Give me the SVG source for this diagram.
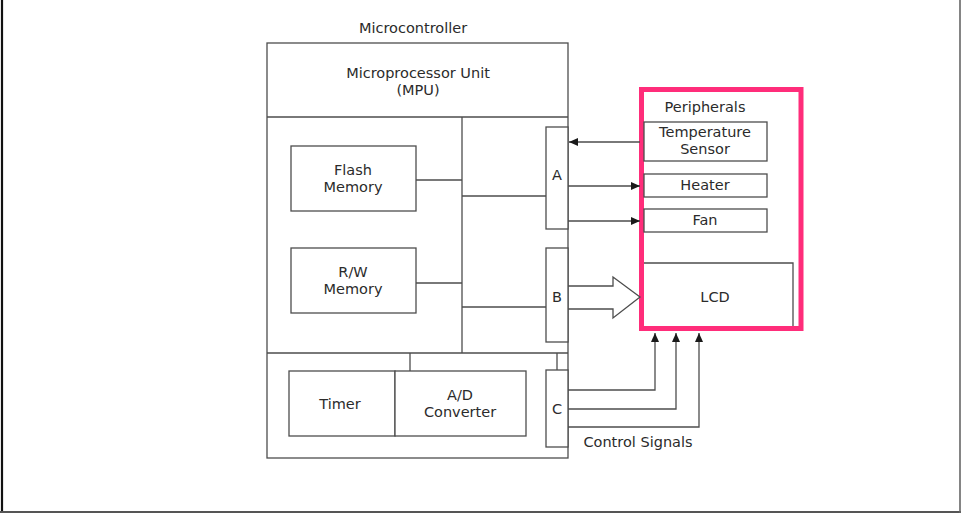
<svg xmlns="http://www.w3.org/2000/svg" width="961" height="514" viewBox="0 0 961 514">
<style>
.ln{fill:none;stroke:#4d4d4d;stroke-width:1.3}
.bx{fill:#fff;stroke:#4d4d4d;stroke-width:1.3}
.t{font-family:"DejaVu Sans","Open Sans",sans-serif;font-size:14.5px;fill:#2b2b2b;text-anchor:middle}
</style>
<defs>
<marker id="ah" markerWidth="10" markerHeight="8" refX="9" refY="4" orient="auto" markerUnits="userSpaceOnUse">
<path d="M0,0 L9,4 L0,8 Z" fill="#1a1a1a"/>
</marker>
</defs>
<rect width="961" height="514" fill="#fff"/>
<line x1="2" y1="0" x2="2" y2="513" stroke="#111" stroke-width="2.2"/>
<line x1="0" y1="512" x2="961" y2="512" stroke="#555" stroke-width="2"/>
<line x1="960" y1="0" x2="960" y2="513" stroke="#666" stroke-width="1.6"/>

<g id="microcontroller">
<text class="t" x="413" y="32.5">Microcontroller</text>
<rect class="bx" x="267" y="43" width="301" height="415"/>
<line class="ln" x1="267" y1="117" x2="568" y2="117"/>
<line class="ln" x1="267" y1="353" x2="568" y2="353"/>
</g>
<g id="mpu">
<text class="t" x="418" y="77.5">Microprocessor Unit</text>
<text class="t" x="418" y="94.5">(MPU)</text>
</g>
<g id="flash">
<rect class="bx" x="291" y="146" width="125" height="65"/>
<text class="t" x="353" y="175">Flash</text>
<text class="t" x="353" y="192">Memory</text>
</g>
<g id="rw">
<rect class="bx" x="291" y="248" width="125" height="65"/>
<text class="t" x="353" y="277">R/W</text>
<text class="t" x="353" y="294">Memory</text>
</g>
<g id="timer">
<rect class="bx" x="289" y="371" width="106" height="65"/>
<text class="t" x="340" y="409">Timer</text>
</g>
<g id="adc">
<rect class="bx" x="395" y="371" width="131" height="65"/>
<text class="t" x="460" y="400">A/D</text>
<text class="t" x="460" y="417">Converter</text>
</g>
<g id="portA">
<rect class="bx" x="546" y="127" width="22" height="102"/>
<text class="t" x="557" y="180">A</text>
</g>
<g id="portB">
<rect class="bx" x="546" y="248" width="22" height="94"/>
<text class="t" x="557" y="302">B</text>
</g>
<g id="portC">
<rect class="bx" x="546" y="370" width="22" height="77"/>
<text class="t" x="557" y="414">C</text>
</g>

<g id="peripherals">
<rect x="641.5" y="89.5" width="159.5" height="239" fill="none" stroke="#ff2d7a" stroke-width="5"/>
<text class="t" x="705" y="112">Peripherals</text>
</g>
<g id="tempsensor">
<rect class="bx" x="644" y="122" width="123" height="39"/>
<text class="t" x="705" y="137">Temperature</text>
<text class="t" x="705" y="154">Sensor</text>
</g>
<g id="heater">
<rect class="bx" x="644" y="174" width="123" height="23"/>
<text class="t" x="705" y="190">Heater</text>
</g>
<g id="fan">
<rect class="bx" x="644" y="209" width="123" height="23"/>
<text class="t" x="705" y="225">Fan</text>
</g>
<g id="lcd">
<path class="ln" d="M644,263 H793 V326"/>
<text class="t" x="715" y="302">LCD</text>
</g>

<g id="connectors">
<line class="ln" x1="462" y1="117" x2="462" y2="353"/>
<line class="ln" x1="416" y1="180" x2="462" y2="180"/>
<line class="ln" x1="416" y1="283" x2="462" y2="283"/>
<line class="ln" x1="462" y1="196" x2="546" y2="196"/>
<line class="ln" x1="462" y1="307" x2="546" y2="307"/>
<line class="ln" x1="410" y1="353" x2="410" y2="371"/>
<line class="ln" x1="557" y1="353" x2="557" y2="370"/>
<line class="ln" x1="640" y1="142" x2="569" y2="142" marker-end="url(#ah)"/>
<line class="ln" x1="568" y1="186" x2="640" y2="186" marker-end="url(#ah)"/>
<line class="ln" x1="568" y1="221" x2="640" y2="221" marker-end="url(#ah)"/>
<path class="ln" d="M568,286 H613 V277 L640,297 L613,318 V309 H568"/>
<path class="ln" d="M568,390 H655 V333" marker-end="url(#ah)"/>
<path class="ln" d="M568,409 H676 V333" marker-end="url(#ah)"/>
<path class="ln" d="M568,427 H699 V333" marker-end="url(#ah)"/>
<text class="t" x="638" y="447">Control Signals</text>
</g>
</svg>
